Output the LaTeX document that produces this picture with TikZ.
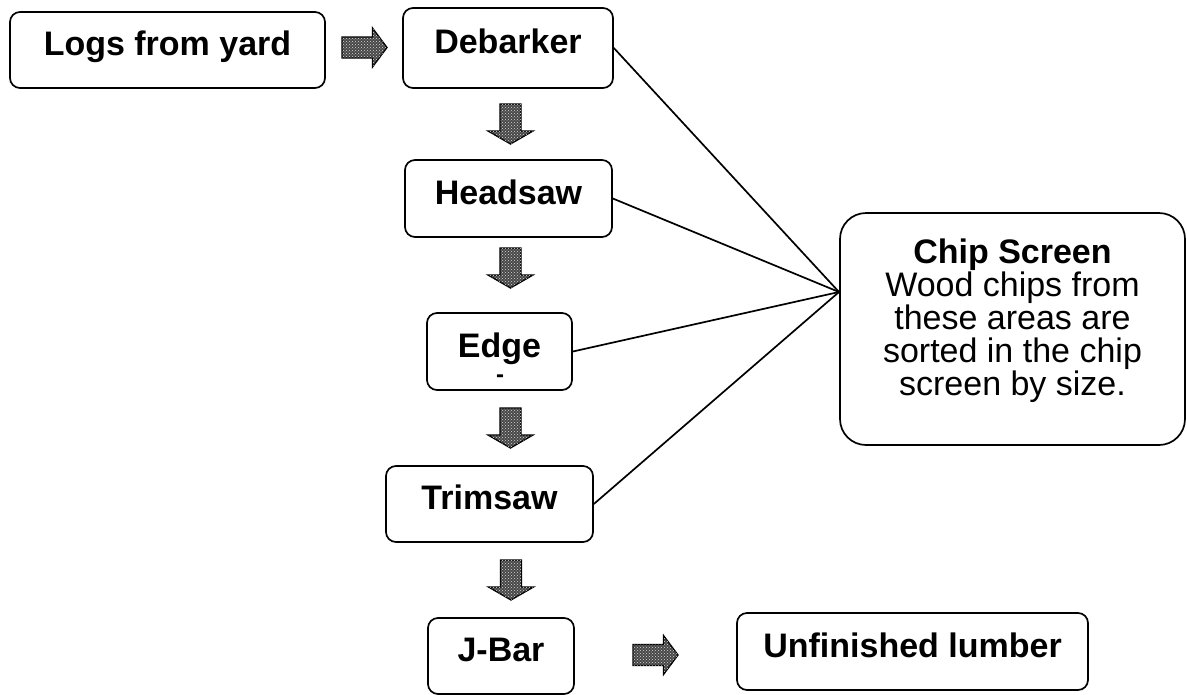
\documentclass[tikz,border=0pt]{standalone}
\usepackage{fontspec}
\setmainfont{Liberation Sans}
\usepackage{tikz}
\usetikzlibrary{patterns}

\tikzset{
  stage/.style={draw, line width=1.7pt, rounded corners=10pt, inner sep=0pt,
    font=\fontsize{34}{33}\selectfont\bfseries, text height=25pt, text depth=14pt},
  blockfill/.style={draw=black, line width=1.3pt, fill=black!72,
    postaction={pattern=crosshatch dots, pattern color=white!85!black}},
  feed/.style={line width=1.7pt},
  flowdown/.pic={\draw[blockfill] (-10.5,-20) -- (10.5,-20) -- (10.5,7) -- (22.5,7) -- (0,20) -- (-22.5,7) -- (-10.5,7) -- cycle;},
  flowright/.pic={\draw[blockfill] (-22.5,-10.5) -- (8,-10.5) -- (8,-19.5) -- (22.5,0) -- (8,19.5) -- (8,10.5) -- (-22.5,10.5) -- cycle;}
}

\begin{document}
\begin{tikzpicture}[x=1pt, y=-1pt]
    \useasboundingbox (0,0) rectangle (1187,694);

    % Stages
    \node[stage, minimum width=315pt, minimum height=76pt] (logs) at (167.5,50) {Logs from yard};
    \node[stage, minimum width=210pt, minimum height=80pt] (deb) at (508,48) {Debarker};
    \node[stage, minimum width=207pt, minimum height=77pt] (head) at (508.5,198.5) {Headsaw};
    \node[stage, minimum width=145pt, minimum height=77pt] (edge) at (499.5,351.5) {Edge};
    \node[font=\fontsize{24}{24}\selectfont\bfseries, inner sep=0pt] (edgemark) at (500,379) {-};
    \node[stage, minimum width=207pt, minimum height=76pt] (trim) at (489.5,504) {Trimsaw};
    \node[stage, minimum width=146pt, minimum height=76pt] (jbar) at (501,656) {J-Bar};
    \node[stage, minimum width=351pt, minimum height=77pt] (lumber) at (912.5,651.5) {Unfinished lumber};

    % Chip screen
    \node[draw, line width=1.7pt, rounded corners=26pt, inner sep=0pt,
          minimum width=345pt, minimum height=232pt, align=center,
          font=\fontsize{34}{33}\selectfont] (chip) at (1012.5,329)
        {\textbf{Chip Screen}\\Wood chips from\\these areas are\\sorted in the chip\\screen by size.\rule[-23pt]{0pt}{0pt}};
    \coordinate (chipin) at (839,292);

    % Flow arrows
    \pic at (364.5,47.5) {flowright};
    \pic at (510.5,124) {flowdown};
    \pic at (510.5,268) {flowdown};
    \pic at (510.5,428) {flowdown};
    \pic at (511,580) {flowdown};
    \pic at (655.5,655) {flowright};

    % Lines to chip screen
    \draw[feed] (deb.east) -- (chipin);
    \draw[feed] (head.east) -- (chipin);
    \draw[feed] (edge.east) -- (chipin);
    \draw[feed] (trim.east) -- (chipin);
\end{tikzpicture}
\end{document}
